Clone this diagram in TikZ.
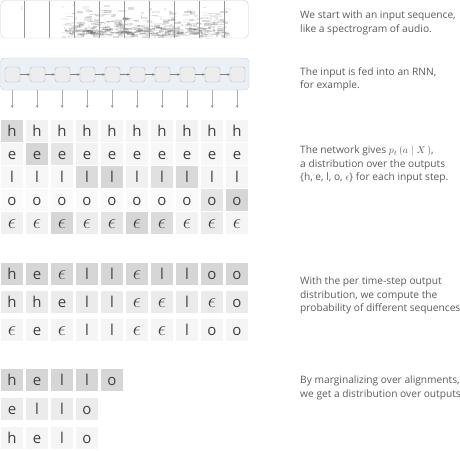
\documentclass[tikz,border=0pt]{standalone}
\usepackage{fontspec}
\setmainfont{Open Sans}
\usetikzlibrary{positioning,arrows.meta}
\definecolor{inkgray}{HTML}{404040}
\definecolor{notegray}{HTML}{5C5C5C}
\definecolor{rnnfill}{HTML}{EBF0F7}
\definecolor{edgegray}{HTML}{C9CDD3}
\newcommand{\epsl}{{\fontsize{21}{21}\selectfont$\epsilon$}}

\begin{document}
\begin{tikzpicture}[
  x=1pt,y=-1pt,
  cell/.style={rectangle,minimum width=22pt,minimum height=22pt,inner sep=0pt,
               text height=11pt,text depth=0pt,text=inkgray,font=\fontsize{15}{15}\selectfont},
  rnncell/.style={rectangle,rounded corners=2.5pt,draw=black!28,fill=black!7,
                  minimum size=15pt,inner sep=0pt},
  link/.style={-{Stealth[length=2.5pt,width=2.5pt]},draw=black!50,line width=0.5pt},
  note/.style={anchor=north west,align=left,inner sep=0pt,text=notegray,
               font=\fontsize{10.2}{13.5}\selectfont}
]
\useasboundingbox (0,0) rectangle (460,450);
% spectrogram
\begin{scope}
\clip (1,1) rectangle (247,37);
\pgfmathsetseed{42}
\foreach \k in {1,...,420}{
  \pgfmathsetmacro\sx{60+165*rnd}
  \pgfmathsetmacro\sy{3+33*sqrt(rnd)}
  \pgfmathsetmacro\sw{1.5+7*rnd}
  \pgfmathsetmacro\sh{0.8+2*rnd}
  \pgfmathsetmacro\so{0.03+0.12*rnd}
  \fill[black,opacity=\so] (\sx,\sy) rectangle ++(\sw,\sh);
}
\foreach \k in {1,...,120}{
  \pgfmathsetmacro\sx{64+150*rnd}
  \pgfmathsetmacro\sy{27+7*rnd}
  \pgfmathsetmacro\sw{2+8*rnd}
  \pgfmathsetmacro\so{0.05+0.12*rnd}
  \fill[black,opacity=\so] (\sx,\sy) rectangle ++(\sw,1.5);
}
\fill[black,opacity=0.12] (21,6) rectangle ++(0.8,4);
\end{scope}
\foreach \i in {0,...,8}
  \draw[black!40,line width=0.8pt] ({24.5+25*\i},0.5) -- ({24.5+25*\i},38);
\node[draw=black!20,rounded corners=4pt,minimum width=247.5pt,minimum height=37.5pt,
      inner sep=0pt] (spec) at (124.5,19.25) {};
% rnn
\node[draw=edgegray,fill=rnnfill,rounded corners=4pt,minimum width=248.5pt,
      minimum height=32pt,inner sep=0pt] (rnn) at (124.75,74) {};
\foreach \i in {0,...,9}
  \node[rnncell] (r\i) at ({12.5+25*\i},74.5) {};
\foreach \i [evaluate=\i as \j using int(\i+1)] in {0,...,8}
  \draw[link] (r\i) -- (r\j);
% output distribution
\foreach \lab/\shades [count=\r from 0] in {
    h/{15,5,4,5,4,4,4,5,4,4},
    e/{4,16,10,5,4,3,3,3,3,3},
    l/{3,3,3,14,16,6,12,15,4,4},
    o/{2,2,2,2,2,2,2,2,10,16},
    \epsl/{6,5,16,7,11,16,14,5,8,4}}
  \foreach \s [count=\c from 0] in \shades
    \node[cell,fill=black!\s] (g-\r-\c) at ({12+25*\c},{131+23*\r}) {\lab};
\foreach \i in {0,...,9}
  \draw[link] (r\i |- rnn.south) -- (g-0-\i.north) [shorten >=12pt];
% alignments
\foreach \letters/\shade/\ypos [count=\r from 0] in {
    {h,e,\epsl,l,l,\epsl,l,l,o,o}/16/274,
    {h,h,e,l,l,\epsl,\epsl,l,\epsl,o}/8/302,
    {\epsl,e,\epsl,l,l,\epsl,\epsl,l,o,o}/4/330}
  \foreach \lab [count=\c from 0] in \letters
    \node[cell,fill=black!\shade] (s-\r-\c) at ({12+25*\c},\ypos) {\lab};
% outputs
\foreach \letters/\shade/\ypos [count=\r from 0] in {
    {h,e,l,l,o}/16/380,
    {e,l,l,o}/8/409,
    {h,e,l,o}/4/437.5}
  \foreach \lab [count=\c from 0] in \letters
    \node[cell,fill=black!\shade] (m-\r-\c) at ({12+25*\c},\ypos) {\lab};
% notes
\node[note] (n1) at (300,11) {We start with an input sequence,\\like a spectrogram of audio.};
\node[note] (n2) at (300,67) {The input is fed into an RNN,\\for example.};
\node[note] (n3) at (300,146) {The network gives $p_t\,(a\mid X\,)$,\\a distribution over the outputs\\
  \{h, e, l, o, $\epsilon$\} for each input step.};
\node[note] (n4) at (300,277) {With the per time-step output\\distribution, we compute the\\
  probability of different sequences};
\node[note] (n5) at (300,376) {By marginalizing over alignments,\\we get a distribution over outputs};
\end{tikzpicture}
\end{document}
